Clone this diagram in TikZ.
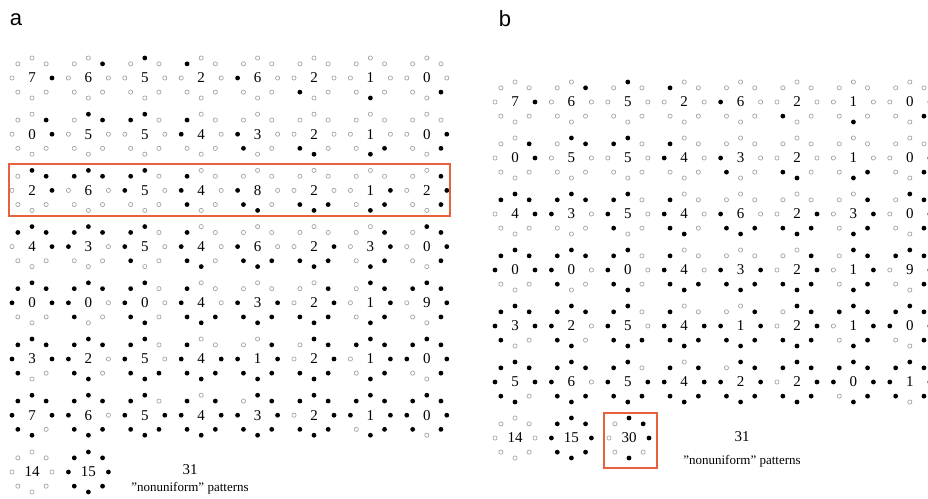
\documentclass[tikz,border=0pt]{standalone}
\usepackage{fontspec}
\setmainfont{Liberation Serif}[Ligatures=ResetAll]
\newfontfamily\labelfont{Liberation Sans}
\usepackage{xcolor}
\usepackage{tikz}
\usetikzlibrary{calc}
\definecolor{boxred}{RGB}{232,96,62}
\definecolor{ringgrey}{RGB}{165,165,165}
\tikzset{
  ondot/.style={fill=black},
  offdot/.style={draw=ringgrey,line width=0.7pt,fill=white},
  codenum/.style={font=\fontsize{15}{18}\selectfont,inner sep=0pt},
  notetext/.style={font=\fontsize{13}{15}\selectfont,inner sep=0pt},
  highlight/.style={draw=boxred,line width=2pt},
  panelname/.style={font=\labelfont\fontsize{22}{26}\selectfont,inner sep=0pt}
}
% ring of 8 samples round (#1,#2): run of #4 black ones from bit #3 on
\newcommand{\samplering}[4]{%
  \foreach \k in {0,...,7}{%
    \pgfmathtruncatemacro{\pos}{mod(\k-#3+8,8)}%
    \ifnum\pos<#4\relax
      \fill[ondot] ({#1+20*cos(\k*45)},{#2-20*sin(\k*45)}) circle (2.4);
    \else
      \draw[offdot] ({#1+20*cos(\k*45)},{#2-20*sin(\k*45)}) circle (2.1);
    \fi
  }}

\begin{document}
\begin{tikzpicture}[x=1pt,y=-1pt]
\useasboundingbox (0,0) rectangle (928,498);
\clip (0,0) rectangle (928,498);
\node[panelname] (tag-a) at (16,20) {a};
\node[panelname] (tag-b) at (505,19) {b};
% panel a
\foreach \n/\labs in {1/{7,6,5,2,6,2,1,0},2/{0,5,5,4,3,2,1,0},3/{2,6,5,4,8,2,1,2},
  4/{4,3,5,4,6,2,3,0},5/{0,0,0,4,3,2,1,9},6/{3,2,5,4,1,2,1,0},7/{7,6,5,4,3,2,1,0}}{
  \foreach \lab [count=\c from 0] in \labs{
    \pgfmathsetmacro{\cx}{32+56.4*\c}
    \pgfmathsetmacro{\cy}{78+56.2*(\n-1)}
    \samplering{\cx}{\cy}{\c}{\n}
    \node[codenum] (a-\n-\c) at (\cx,\cy) {\lab};
  }
}
\samplering{32}{472}{0}{0}
\node[codenum] (a-14) at (32,472) {14};
\samplering{88.4}{472}{0}{8}
\node[codenum] (a-15) at (88.4,472) {15};
\node[codenum] (a-31) at (190,470) {31};
\node[notetext] (a-note) at (190,488) {"nonuniform" patterns};
\draw[highlight] (9,164) rectangle (450,216);
% panel b
\foreach \n/\r/\labs in {1/0/{7,6,5,2,6,2,1,0},2/1/{0,5,5,4,3,2,1,0},4/2/{4,3,5,4,6,2,3,0},
  5/3/{0,0,0,4,3,2,1,9},6/4/{3,2,5,4,1,2,1,0},7/5/{5,6,5,4,2,2,0,1}}{
  \foreach \lab [count=\c from 0] in \labs{
    \pgfmathsetmacro{\cx}{515+56.4*\c}
    \pgfmathsetmacro{\cy}{102+56*\r}
    \samplering{\cx}{\cy}{\c}{\n}
    \node[codenum] (b-\n-\c) at (\cx,\cy) {\lab};
  }
}
\samplering{515}{438}{0}{0}
\node[codenum] (b-14) at (515,438) {14};
\samplering{571.4}{438}{0}{8}
\node[codenum] (b-15) at (571.4,438) {15};
\foreach \k/\s in {0/1,1/1,2/1,3/0,4/0,5/0,6/1,7/0}{
  \ifnum\s=1
    \fill[ondot] ({629+20*cos(\k*45)},{438-20*sin(\k*45)}) circle (2.4);
  \else
    \draw[offdot] ({629+20*cos(\k*45)},{438-20*sin(\k*45)}) circle (2.1);
  \fi
}
\node[codenum] (b-30) at (629,438) {30};
\draw[highlight] (604,413) rectangle (657,468);
\node[codenum] (b-31) at (742,437) {31};
\node[notetext] (b-note) at (742,461) {"nonuniform" patterns};
\end{tikzpicture}
\end{document}
